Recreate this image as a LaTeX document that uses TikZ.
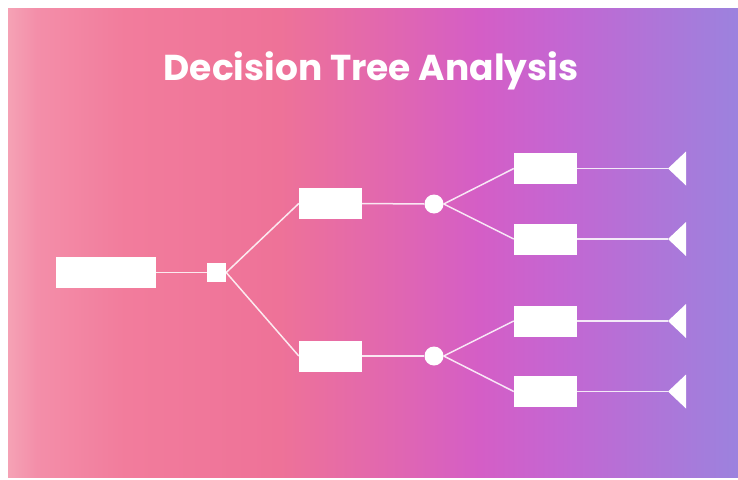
\documentclass[tikz,border=0pt]{standalone}
\usepackage{fontspec}
\setmainfont{Poppins}
\definecolor{gA}{HTML}{F5A2B5}
\definecolor{gB}{HTML}{F38EA9}
\definecolor{gC}{HTML}{F27C9C}
\definecolor{gD}{HTML}{EE7298}
\definecolor{gE}{HTML}{E066B2}
\definecolor{gF}{HTML}{D45EC6}
\definecolor{gG}{HTML}{C466D2}
\definecolor{gH}{HTML}{9C82DE}
\pgfdeclarehorizontalshading{bggrad}{100bp}{
  color(0bp)=(gA); color(25bp)=(gA); color(27bp)=(gB); color(33bp)=(gC);
  color(43.6bp)=(gD); color(51.8bp)=(gE); color(57.3bp)=(gF); color(62.8bp)=(gG);
  color(75bp)=(gH); color(100bp)=(gH)}
\tikzset{
  box/.style={draw=none, fill=white, inner sep=0pt, minimum width=63pt, minimum height=31pt},
  dot/.style={circle, fill=white, inner sep=0pt, minimum size=19pt},
  sq/.style={fill=white, inner sep=0pt, minimum size=19pt},
  link/.style={draw=white, draw opacity=0.85, line width=1.5pt},
  tri/.style={fill=white}
}
\begin{document}
\begin{tikzpicture}[x=1pt,y=-1pt]
\useasboundingbox (0,0) rectangle (738,479);
\fill[white] (0,0) rectangle (738,479);
\shade[shading=bggrad] (8,8) rectangle (738,477);
\node[text=white, font=\bfseries\fontsize{36}{40}\selectfont] (title) at (371,71) {Decision Tree Analysis};
% nodes
\node[box, minimum width=100pt] (root) at (105.5,272.5) {};
\node[sq] (dec) at (216.5,272.5) {};
\node[box] (m1) at (330.5,203.5) {};
\node[box] (m2) at (330.5,356) {};
\node[dot] (c1) at (434,204) {};
\node[dot] (c2) at (434,356) {};
\node[box] (r1) at (545.5,168.5) {};
\node[box] (r2) at (545.5,239) {};
\node[box] (r3) at (545.5,321) {};
\node[box] (r4) at (545.5,391.5) {};
\coordinate (t1) at (668,168.5);
\coordinate (t2) at (668,239);
\coordinate (t3) at (668,321);
\coordinate (t4) at (668,391.5);
% links
\draw[link] (root.east) -- (dec.west);
\draw[link] (dec.east) -- (m1.west);
\draw[link] (dec.east) -- (m2.west);
\draw[link] (m1.east) -- (c1.west);
\draw[link] (m2.east) -- (c2.west);
\draw[link] (c1.east) -- (r1.west);
\draw[link] (c1.east) -- (r2.west);
\draw[link] (c2.east) -- (r3.west);
\draw[link] (c2.east) -- (r4.west);
\foreach \i in {1,2,3,4} {
  \draw[link] (r\i.east) -- (t\i);
  \fill[tri] (t\i) -- ++(18,-17) -- ++(0,34) -- cycle;
}
\end{tikzpicture}
\end{document}
